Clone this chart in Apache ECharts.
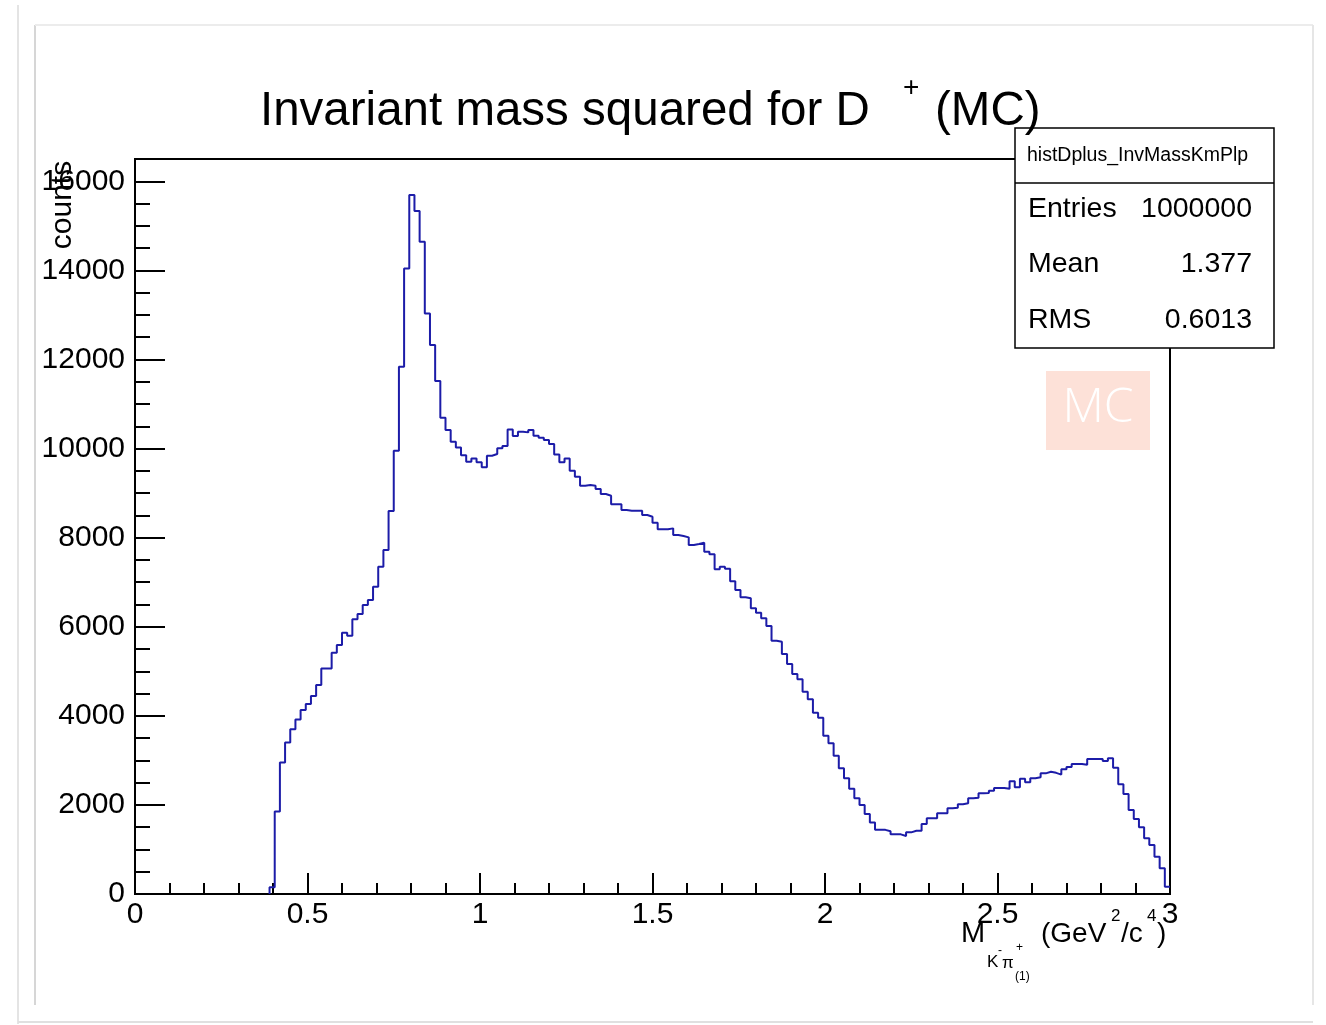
<!DOCTYPE html>
<html>
<head>
<meta charset="utf-8">
<script src="https://cdn.jsdelivr.net/npm/echarts@6/dist/echarts.min.js"></script>
<style>
html,body{margin:0;padding:0;background:#fff;}
#chart{width:1326px;height:1025px;}
</style>
</head>
<body>
<div id="chart"></div>
<script>
// ---- Data ----
const binWidth = 0.015;   // 200 bins over 0..3
const xTicks = ['0', '0.5', '1', '1.5', '2', '2.5', '3'];
const yTicks = ['0', '2000', '4000', '6000', '8000', '10000', '12000', '14000', '16000'];
const counts = [
  0, 0, 0, 0, 0, 0, 0, 0, 0, 0,
  0, 0, 0, 0, 0, 0, 0, 0, 0, 0,
  0, 0, 0, 0, 0, 0, 150, 1850, 2950, 3400,
  3700, 3920, 4130, 4265, 4445, 4690, 5065, 5065, 5415, 5590,
  5865, 5800, 6166, 6285, 6487, 6599, 6898, 7347, 7722, 8597,
  9951, 11837, 14044, 15690, 15335, 14642, 13034, 12323, 11515, 10690,
  10415, 10153, 10026, 9850, 9704, 9779, 9690, 9578, 9839, 9877,
  10004, 10056, 10430, 10281, 10378, 10363, 10415, 10288, 10243, 10191,
  10101, 9869, 9690, 9779, 9502, 9367, 9165, 9181, 9165, 9091,
  8979, 8941, 8747, 8747, 8620, 8605, 8605, 8605, 8507, 8470,
  8335, 8186, 8186, 8208, 8058, 8036, 8006, 7834, 7856, 7886,
  7684, 7628, 7288, 7347, 7300, 7020, 6824, 6660, 6637, 6412,
  6315, 6188, 6016, 5686, 5664, 5387, 5163, 4938, 4819, 4541,
  4370, 4070, 3958, 3554, 3382, 3105, 2821, 2597, 2365, 2147,
  1998, 1796, 1605, 1445, 1440, 1410, 1339, 1339, 1302, 1384,
  1421, 1421, 1571, 1698, 1698, 1811, 1811, 1923, 1935, 2013,
  2035, 2147, 2160, 2260, 2270, 2320, 2380, 2380, 2365, 2530,
  2395, 2590, 2510, 2600, 2620, 2708, 2746, 2720, 2680, 2798,
  2850, 2918, 2918, 2900, 3030, 3030, 3030, 2985, 3045, 2836,
  2462, 2245, 1885, 1683, 1496, 1249, 1100, 838, 576, 165
];
const histName = 'histDplus_InvMassKmPlp';
const statLabels = ['Entries', 'Mean', 'RMS'];
const statValues = ['1000000', '1.377', '0.6013'];

// ---- Build step data ----
let first = counts.findIndex(v => v > 0);
const stepData = [[+(first * binWidth).toFixed(4), 0]];
for (let i = first; i < counts.length; i++) {
  stepData.push([+(i * binWidth).toFixed(4), counts[i]]);
}
stepData.push([+(counts.length * binWidth).toFixed(4), counts[counts.length - 1]]);

const FONT = '"Liberation Sans", Arial, Helvetica, sans-serif';
const chart = echarts.init(document.getElementById('chart'), null, {renderer: 'canvas'});

const txt = (x, y, s, size, align, extra) => Object.assign({
  type: 'text', x: x, y: y, z: 100,
  style: {text: s, fontSize: size, fontFamily: FONT, fill: '#000',
          textAlign: align || 'left', textVerticalAlign: 'middle'}
}, extra || {});

const graphics = [
  // canvas shadow lines
  {type: 'line', z: 1, shape: {x1: 18, y1: 5, x2: 18, y2: 1024}, style: {stroke: '#e4e4e4', lineWidth: 2}},
  {type: 'line', z: 1, shape: {x1: 35, y1: 25, x2: 35, y2: 1005}, style: {stroke: '#d6d6d6', lineWidth: 2}},
  {type: 'line', z: 1, shape: {x1: 35, y1: 25, x2: 1313, y2: 25}, style: {stroke: '#ececec', lineWidth: 2}},
  {type: 'line', z: 1, shape: {x1: 1313, y1: 25, x2: 1313, y2: 1005}, style: {stroke: '#e6e6e6', lineWidth: 2}},
  {type: 'line', z: 1, shape: {x1: 18, y1: 1022, x2: 1313, y2: 1022}, style: {stroke: '#e0e0e0', lineWidth: 2}},
  // title
  txt(260, 112, 'Invariant mass squared for D', 47.5),
  txt(903, 88, '+', 28),
  txt(935, 112, '(MC)', 47.5),
  // y axis title
  {type: 'text', x: 63, y: 205, rotation: Math.PI / 2, z: 100,
   style: {text: 'counts', fontSize: 30, fontFamily: FONT, fill: '#000', textAlign: 'center', textVerticalAlign: 'middle'}},
  // x axis title
  txt(961, 934, 'M', 29),
  txt(987, 962, 'K', 17),
  txt(998, 951, '-', 12),
  txt(1002, 963, 'π', 17),
  txt(1016, 948, '+', 12),
  txt(1015, 977, '(1)', 12),
  txt(1041, 934, '(GeV', 28),
  txt(1111, 916, '2', 17),
  txt(1121, 934, '/c', 28),
  txt(1147, 916, '4', 17),
  txt(1157, 934, ')', 28),
  // MC badge
  {type: 'rect', z: 90, shape: {x: 1046, y: 371, width: 104, height: 79}, style: {fill: '#fde1d8'}},
  {type: 'text', x: 1098, y: 408, z: 100,
   style: {text: 'MC', fontSize: 48, fontFamily: '"Open Sans", sans-serif', fontWeight: 300, fill: '#fff', textAlign: 'center', textVerticalAlign: 'middle'}},
  // stats box
  {type: 'rect', z: 95, shape: {x: 1015, y: 128, width: 259, height: 220}, style: {fill: '#fff', stroke: '#000', lineWidth: 1.5}},
  {type: 'line', z: 96, shape: {x1: 1015, y1: 183, x2: 1274, y2: 183}, style: {stroke: '#000', lineWidth: 1.5}},
  txt(1027, 156, histName, 19.5)
];
const rowY = [209, 264, 320];
statLabels.forEach((l, i) => {
  graphics.push(txt(1028, rowY[i], l, 28.5));
  graphics.push(txt(1252, rowY[i], statValues[i], 28.5, 'right'));
});

const option = {
  animation: false,
  backgroundColor: '#fff',
  grid: {left: 135, top: 159, right: 156, bottom: 131, show: true, borderColor: '#000', borderWidth: 2, backgroundColor: 'transparent'},
  xAxis: {
    type: 'value', min: 0, max: 3, interval: 0.5,
    axisLine: {show: true, onZero: false, lineStyle: {color: '#000', width: 2}},
    axisTick: {show: true, inside: true, length: 21, lineStyle: {color: '#000', width: 2}},
    minorTick: {show: true, splitNumber: 5, length: 11, lineStyle: {color: '#000', width: 2}},
    splitLine: {show: false},
    axisLabel: {margin: 6, fontSize: 30, fontFamily: FONT, color: '#000',
      formatter: v => { const i = Math.round(v / 0.5); return Math.abs(v - i * 0.5) < 1e-9 ? xTicks[i] : ''; }}
  },
  yAxis: [{
    type: 'value', min: 0, max: 16500, interval: 2000, position: 'left',
    axisLine: {show: true, onZero: false, lineStyle: {color: '#000', width: 2}},
    axisTick: {show: true, inside: true, length: 30, lineStyle: {color: '#000', width: 2}},
    splitLine: {show: false},
    axisLabel: {margin: 10, fontSize: 30, fontFamily: FONT, color: '#000', showMaxLabel: false,
      formatter: v => { const i = Math.round(v / 2000); return (v % 2000 === 0 && i < yTicks.length) ? yTicks[i] : ''; }}
  }, {
    type: 'value', min: 0, max: 16500, interval: 500, position: 'left', offset: 0,
    axisLine: {show: false},
    axisTick: {show: true, inside: true, length: 15, lineStyle: {color: '#000', width: 2}},
    splitLine: {show: false},
    axisLabel: {show: false}
  }],
  series: [{
    type: 'line', step: 'end', yAxisIndex: 0, data: stepData,
    symbol: 'none', lineStyle: {color: '#1c1ca8', width: 2}, z: 5
  }],
  graphic: graphics
};
chart.setOption(option);
</script>
</body>
</html>
